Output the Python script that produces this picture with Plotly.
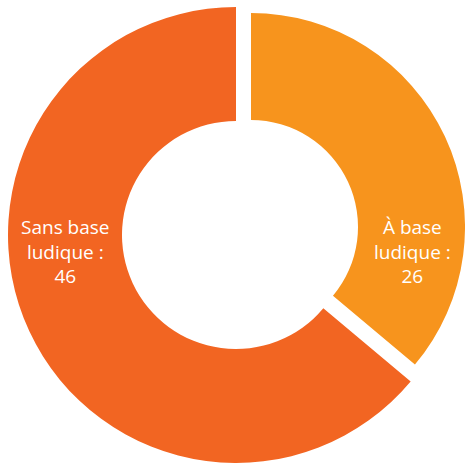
import plotly.graph_objects as go

labels = ["À base ludique", "Sans base ludique"]
values = [26, 46]
colors = ["#F7941D", "#F26522"]
label_lines = ["À base<br>ludique :", "Sans base<br>ludique :"]

W, H = 465, 463

fig = go.Figure()

# Large slice (Sans base ludique) - full-size ring
fig.add_trace(go.Pie(
    labels=labels, values=values, hole=0.5, sort=False, direction="clockwise",
    rotation=0,
    marker=dict(colors=["rgba(0,0,0,0)", colors[1]], line=dict(width=0)),
    textinfo="none", hoverinfo="label+value", showlegend=False,
    domain=dict(x=[8 / W, 464 / W], y=[0 / H, 456 / H]),
))

# Smaller, pulled-out slice (À base ludique)
fig.add_trace(go.Pie(
    labels=labels, values=values, hole=0.5, sort=False, direction="clockwise",
    rotation=0,
    marker=dict(colors=[colors[0], "rgba(0,0,0,0)"], line=dict(width=0)),
    textinfo="none", hoverinfo="label+value", showlegend=False,
    domain=dict(x=[37 / W, 465 / W], y=[22 / H, 450 / H]),
))

pos = [(412 / W, (H - 251) / H), (65 / W, (H - 251) / H)]
for (x, y), txt, v in zip(pos, label_lines, values):
    fig.add_annotation(x=x, y=y, xref="paper", yref="paper", showarrow=False,
                       xanchor="center", yanchor="middle",
                       text=f"{txt}<br>{v}", align="center",
                       font=dict(family="Open Sans", size=19, color="white"))

fig.update_layout(width=W, height=H, margin=dict(l=0, r=0, t=0, b=0),
                  paper_bgcolor="white", plot_bgcolor="white")

fig.write_html("out.html", config={"displayModeBar": False},
               post_script="document.body.style.margin='0';")
